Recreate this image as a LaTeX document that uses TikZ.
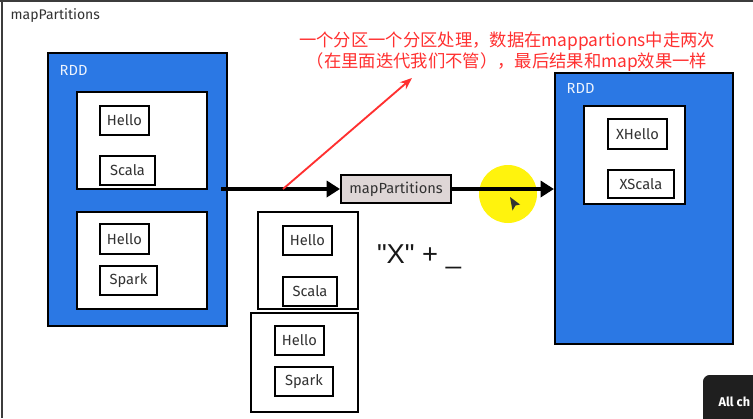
\documentclass[tikz,border=0pt]{standalone}
\usepackage{fontspec}
\setmainfont{Fira Sans}
\newfontfamily\cjk{Noto Sans CJK SC}
\newfontfamily\arialf{Liberation Sans}
\usetikzlibrary{arrows.meta,fit}
\definecolor{rddblue}{RGB}{43,120,228}
\definecolor{notered}{RGB}{255,48,48}
\definecolor{mpfill}{RGB}{222,214,214}
\definecolor{txtgray}{RGB}{50,50,50}
\definecolor{framegray}{RGB}{60,60,60}
\tikzset{
  rddbox/.style={draw=black, line width=1.6pt, fill=rddblue, inner sep=0pt},
  partbox/.style={draw=black, line width=1.5pt, fill=white, inner sep=0pt},
  itembox/.style={draw=black, line width=1.5pt, fill=white, inner sep=0pt},
  itemtext/.style={text=txtgray, font=\fontsize{11}{13}\selectfont, inner sep=0pt},
  rddlabel/.style={anchor=west, text=white!92!rddblue, font=\fontsize{11}{13}\selectfont},
  bigarrow/.style={line width=3pt, -{Triangle[length=10pt,width=12pt]}},
}
\begin{document}
\begin{tikzpicture}[x=0.75pt,y=-0.75pt]
\useasboundingbox (0,0) rectangle (753,418);
\begin{scope}
\clip (0,0) rectangle (753,418);
\fill[white] (0,0) rectangle (753,418);
% frame
\draw[framegray, line width=1.6pt] (0,1) -- (753,1);
\draw[framegray, line width=1.6pt] (2,0) -- (2,418);
% title
\node[anchor=west, text=txtgray, font=\fontsize{10.5}{12}\selectfont] (title) at (6,16) {mapPartitions};

% left RDD
\node[rddbox, fit={(48,53)(227,326)}] (lrdd) {};
\node[rddlabel] (lrddlbl) at (55,70) {RDD};
\node[partbox, fit={(77,92)(207,189)}] (lp1) {};
\node[itembox, fit={(100,106)(149,135)}, label={[itemtext]center:Hello}] (lp1a) {};
\node[itembox, fit={(100,156)(155,185)}, label={[itemtext]center:Scala}] (lp1b) {};
\node[partbox, fit={(77,212)(207,309)}] (lp2) {};
\node[itembox, fit={(100,224)(149,254)}, label={[itemtext]center:Hello}] (lp2a) {};
\node[itembox, fit={(100,266)(157,295)}, label={[itemtext]center:Spark}] (lp2b) {};

% middle partitions
\node[partbox, fit={(258,212)(358,309)}] (mp1) {};
\node[itembox, fit={(283,226)(332,255)}, label={[itemtext]center:Hello}] (mp1a) {};
\node[itembox, fit={(283,277)(337,306)}, label={[itemtext]center:Scala}] (mp1b) {};
\node[partbox, fit={(251,313)(358,412)}] (mp2) {};
\node[itembox, fit={(275,326)(324,355)}, label={[itemtext]center:Hello}] (mp2a) {};
\node[itembox, fit={(275,367)(333,396)}, label={[itemtext]center:Spark}] (mp2b) {};

% function text
\node[font=\arialf\fontsize{20.5}{24}\selectfont, text=black!90] (fn) at (419,257) {"X" + \_};

% right RDD
\node[rddbox, fit={(555,73)(733,344)}] (rrdd) {};
\node[rddlabel] (rrddlbl) at (562,88) {RDD};
\node[partbox, fit={(584,106)(685,204)}] (rp1) {};
\node[itembox, fit={(608,119)(667,149)}, label={[itemtext]center:XHello}] (rp1a) {};
\node[itembox, fit={(608,170)(674,198)}, label={[itemtext]center:XScala}] (rp1b) {};

% yellow highlight
\fill[yellow!95!white] (508,194) circle[radius=29];

% mapPartitions box
\node[draw=black, line width=1.5pt, fill=mpfill, inner sep=0pt, fit={(341,175)(451,203)},
  label={[itemtext, font=\fontsize{11}{13}\selectfont]center:mapPartitions}] (mp) {};

% arrows
\draw[bigarrow] ([xshift=-5pt]lrdd.east |- mp.west) -- (mp.west);
\draw[bigarrow] (mp.east) -- (rrdd.west |- mp.east);

% cursor
\fill[black!80] (510,197) -- (520,204.5) -- (515.5,205.5) -- (512.5,210.5) -- cycle;

% red note
\node[text=notered, font=\cjk\fontsize{13}{15.5}\selectfont, align=center] (note) at (507,52)
  {一个分区一个分区处理，数据在mappartions中走两次\\（在里面迭代我们不管），最后结果和map效果一样};
\coordinate (rs) at (283,189);
\coordinate (re) at (412,78);
\draw[notered, line width=1.4pt, -{Stealth[length=9pt,width=7pt]}] (rs) -- (re);

% overlay chip
\node[fill=black!88, rounded corners=5pt, inner sep=0pt, fit={(703,375)(790,440)}] (chip) {};
\node[anchor=west, text=white, font=\bfseries\fontsize{9.5}{11}\selectfont] (chiptxt) at (714,402) {All ch};
\end{scope}
\end{tikzpicture}
\end{document}
